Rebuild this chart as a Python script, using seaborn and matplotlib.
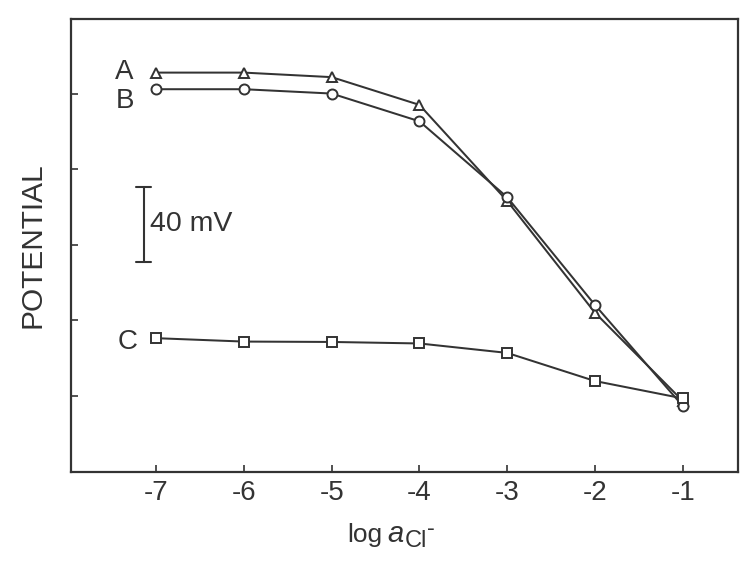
import numpy as np
import pandas as pd
import matplotlib
matplotlib.use("Agg")
import matplotlib.pyplot as plt
import seaborn as sns

# Data (potential in mV, relative scale)
log_a = [-7, -6, -5, -4, -3, -2, -1]
series_A = [171.3, 171.3, 168.9, 154.2, 103.3, 44.1, -2.6]
series_B = [162.5, 162.5, 160.2, 145.5, 105.3, 48.2, -5.3]
series_C = [30.6, 28.8, 28.6, 27.8, 22.8, 7.9, -1.3]
labels = ["A", "B", "C"]
x_ticks = [-7, -6, -5, -4, -3, -2, -1]
y_ticks = [0, 40, 80, 120, 160]

sns.set_theme(style="white")
plt.rcParams['font.family'] = ['Liberation Sans', 'DejaVu Sans']
NARROW = ['Liberation Sans Narrow', 'Liberation Sans', 'DejaVu Sans']

ink = '#333333'
df = pd.DataFrame({
    'x': log_a * 3,
    'y': series_A + series_B + series_C,
    'series': [labels[0]] * 7 + [labels[1]] * 7 + [labels[2]] * 7,
})

W, H = 756, 564
fig = plt.figure(figsize=(W / 100, H / 100), dpi=100)
ax = fig.add_axes([71/W, 1 - 472/H, (738-71)/W, (472-19)/H])

markers = {'A': '^', 'B': 'o', 'C': 's'}
sns.lineplot(data=df, x='x', y='y', style='series', markers=markers, dashes=False,
             color=ink, linewidth=1.45, markersize=7.2, markerfacecolor='white',
             markeredgecolor=ink, markeredgewidth=1.4, legend=False, ax=ax, sort=False)

ax.set_xlim(-7.97, -0.37)
ax.set_ylim(-40.3, 199.7)
ax.set_xticks(x_ticks)
ax.set_xticklabels([str(v) for v in x_ticks], family=NARROW)
ax.set_yticks(y_ticks)
ax.set_yticklabels([])
ax.tick_params(axis='both', direction='in', length=5, width=1.2, color=ink,
               labelsize=20, labelcolor=ink, left=True, bottom=True, top=False, right=False)
ax.tick_params(axis='x', pad=6)
for s in ax.spines.values():
    s.set_color(ink)
    s.set_linewidth(1.6)

ax.set_xlabel('')
ax.set_ylabel('POTENTIAL', fontsize=21.5, color=ink, labelpad=14)

# x-axis label composed of pieces: "log a_{Cl^-}"
renderer = fig.canvas.get_renderer()
x0, base = 347, 542
t1 = fig.text(x0 / W, 1 - base / H, 'log', fontsize=19, family=NARROW, color=ink,
              ha='left', va='baseline')
bb = t1.get_window_extent(renderer)
xa = bb.x1 + 5
t2 = fig.text(xa / W, 1 - base / H, 'a', fontsize=21, family=NARROW, style='italic',
              color=ink, ha='left', va='baseline')
bb = t2.get_window_extent(renderer)
xc = bb.x1 + 1
t3 = fig.text(xc / W, 1 - 547 / H, 'Cl', fontsize=17, family=NARROW, color=ink,
              ha='left', va='baseline')
bb = t3.get_window_extent(renderer)
t4 = fig.text((bb.x1 + 0.5) / W, 1 - 535 / H, '-', fontsize=17, family=NARROW, color=ink,
              ha='left', va='baseline')

# Series labels
ax.text(-7.36, 171.5, 'A', fontsize=20, color=ink, ha='center', va='center')
ax.text(-7.36, 156.5, 'B', fontsize=20, color=ink, ha='center', va='center')
ax.text(-7.32, 28.5, 'C', fontsize=20, color=ink, ha='center', va='center')

# 40 mV scale bar
bx = -7.14
y0, y1 = 70.8, 110.8
ax.plot([bx, bx], [y0, y1], color=ink, lw=1.5)
ax.plot([bx - 0.085, bx + 0.085], [y0, y0], color=ink, lw=1.5)
ax.plot([bx - 0.085, bx + 0.085], [y1, y1], color=ink, lw=1.5)
ax.text(bx + 0.07, (y0 + y1) / 2 + 0.5, '40 mV', fontsize=20.5, color=ink, ha='left', va='center')

fig.savefig('out.png', dpi=100)
